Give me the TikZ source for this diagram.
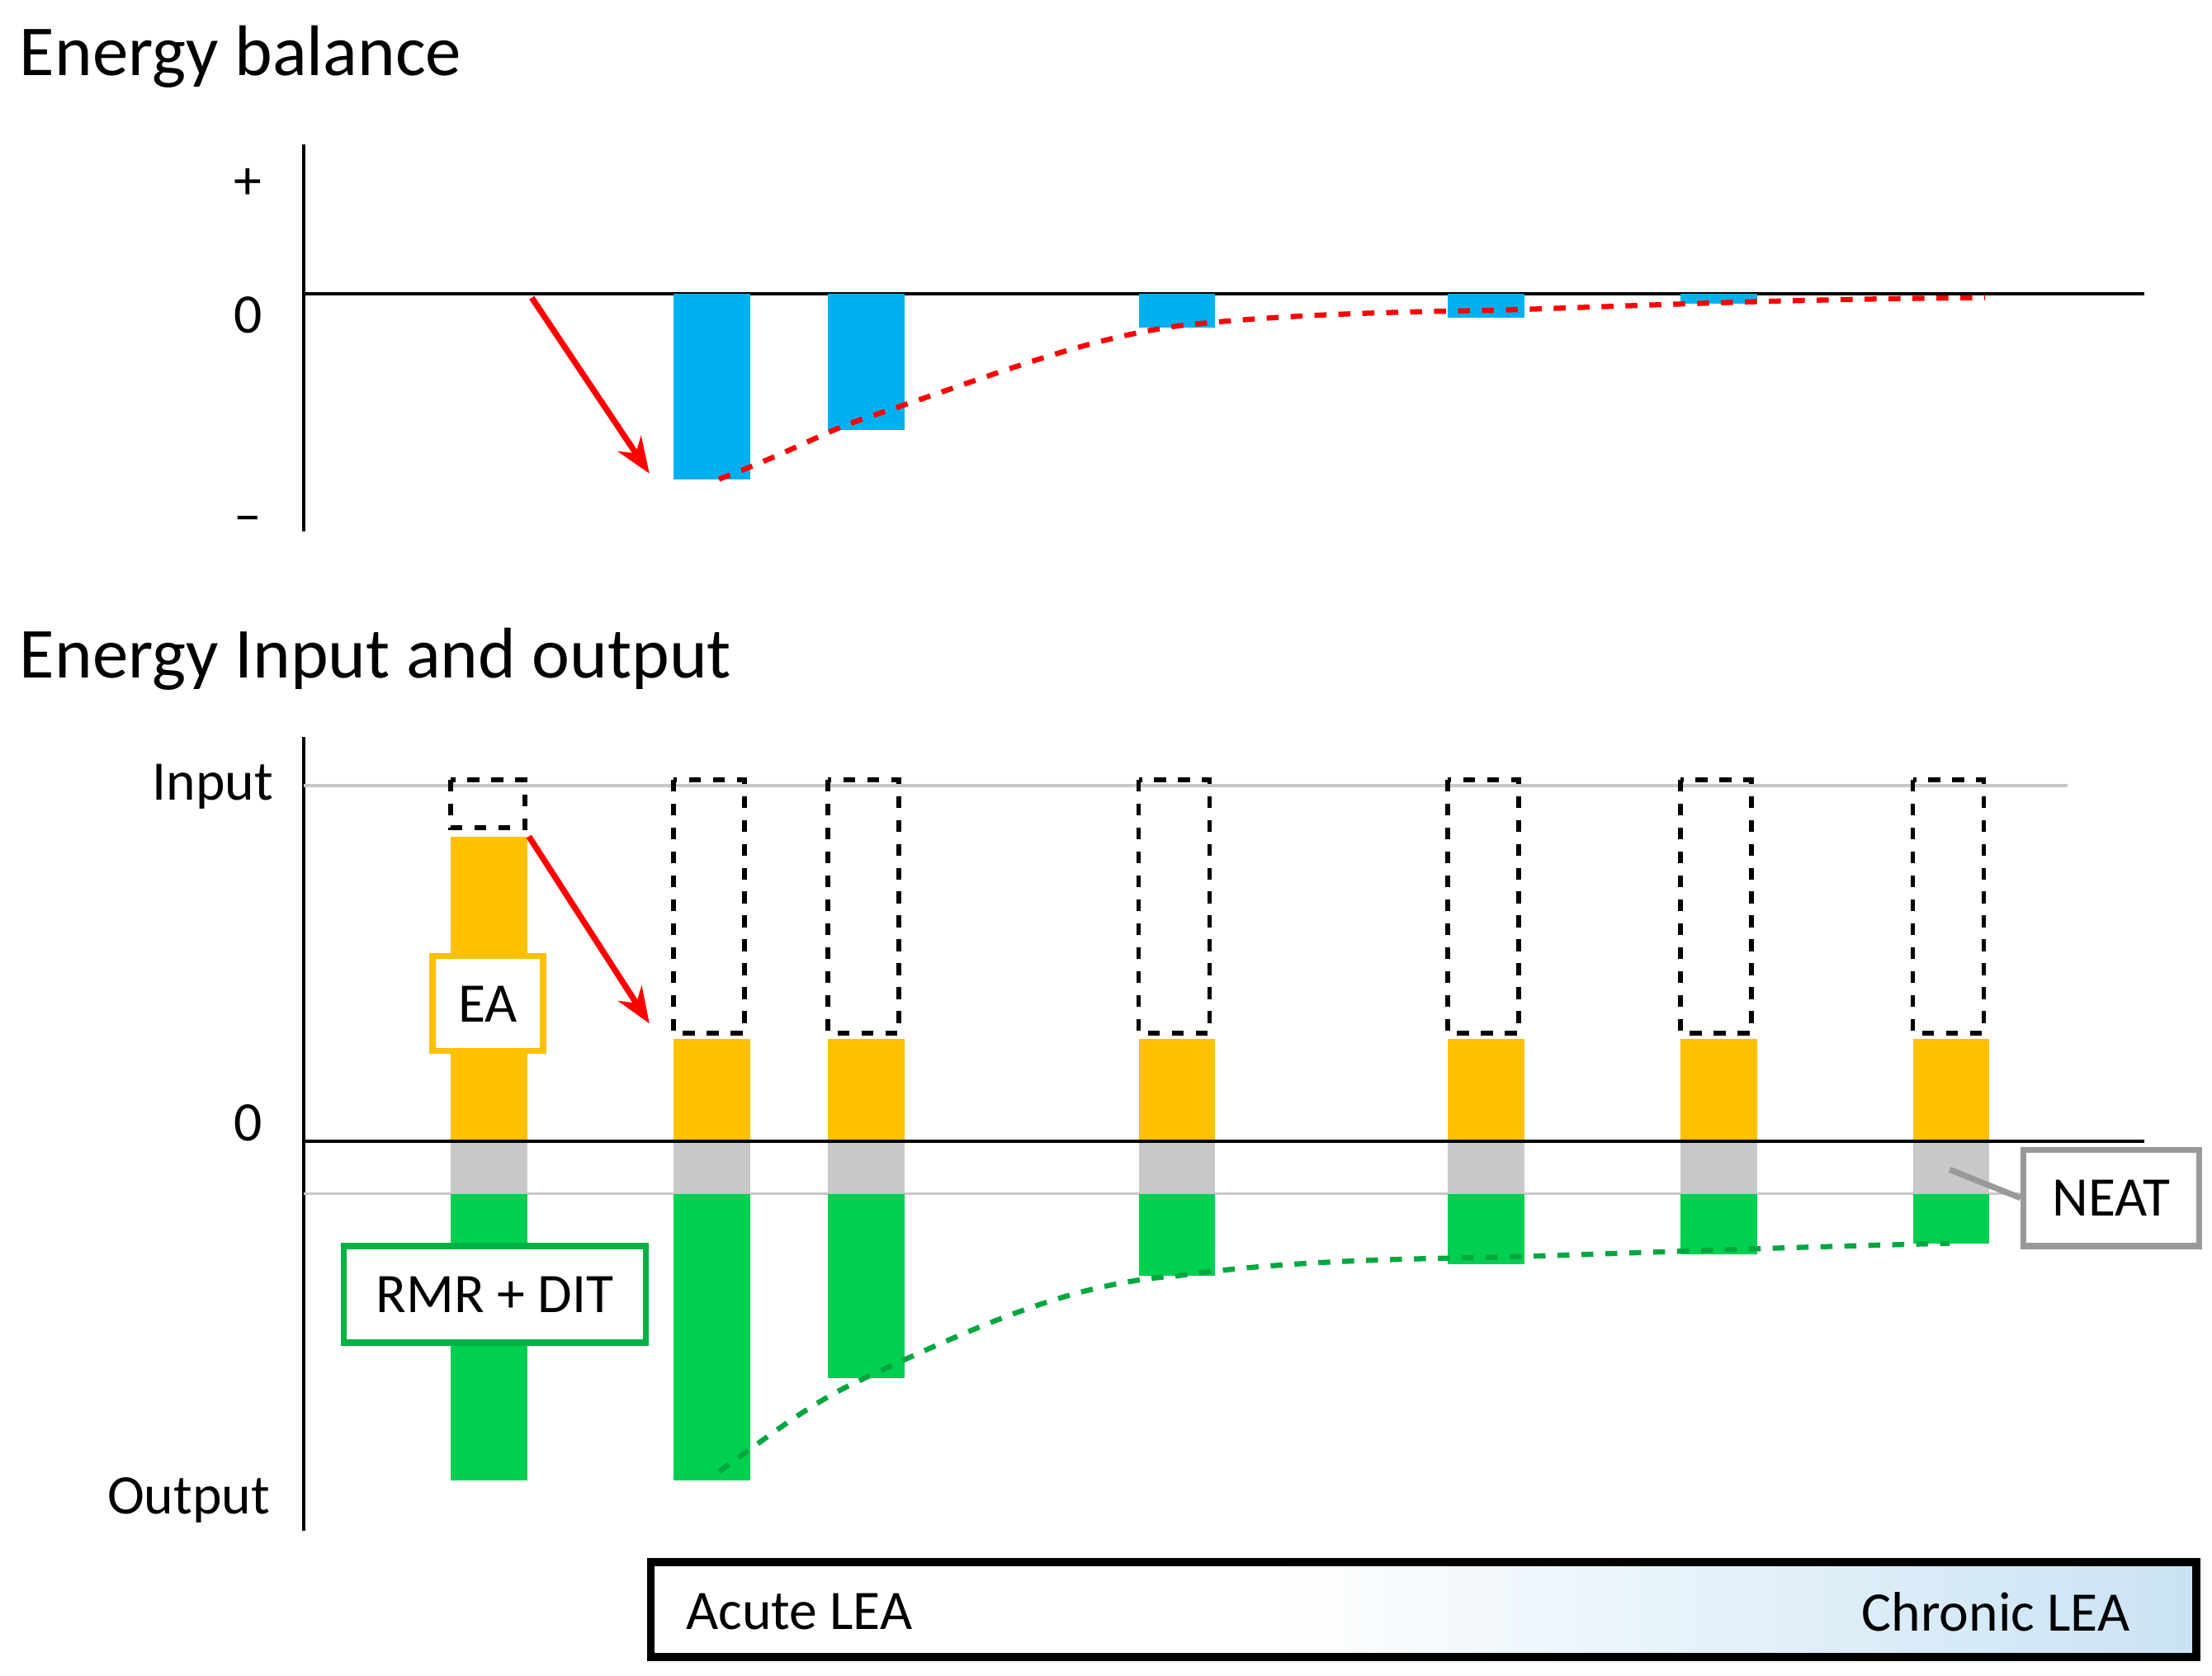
\documentclass[tikz,border=0pt]{standalone}
\usepackage{fontspec}
\setmainfont{Carlito}
\usetikzlibrary{arrows.meta}
\definecolor{bl}{HTML}{00B0F0}
\definecolor{og}{HTML}{FFC000}
\definecolor{gn}{HTML}{00D050}
\definecolor{gy}{HTML}{C8C8C8}
\definecolor{lb}{HTML}{9CCBEA}
\pgfdeclarehorizontalshading{lea}{100bp}{color(0bp)=(white);color(45bp)=(white);color(100bp)=(lb)}
\tikzset{lab/.style={font=\fontsize{14}{16}\selectfont},
 ttl/.style={font=\fontsize{18}{20}\selectfont,anchor=west},
 dbox/.style={draw=black,dashed,line width=1.2pt},
 arr/.style={red,line width=1.5pt,-{Stealth[length=9pt,width=7pt]}}}
\begin{document}
\begin{tikzpicture}[x=0.0125cm,y=-0.0125cm]
\useasboundingbox (0,0) rectangle (1560,1182);
\node[ttl] (t1) at (4,40) {Energy balance};
\node[ttl] (t2) at (4,465) {Energy Input and output};
% top chart
\draw[line width=0.8pt] (214,102) -- (214,375);
\draw[line width=0.8pt] (214,207) -- (1512,207);
\node[lab] (p) at (175,130) {+};
\node[lab] (z1) at (175,222) {0};
\node[lab] (m) at (175,370) {–};
\foreach \x/\b in {475/338,584/303,803/231,1021/224,1185/214}
  \fill[bl] (\x,207) rectangle (\x+54,\b);
\draw[red,dashed,line width=1.3pt] (507,338) .. controls (560,318) and (580,305) .. (610,295) .. controls (700,265) and (760,240) .. (830,230) .. controls (900,222) and (980,220) .. (1050,219) .. controls (1150,216) and (1250,211) .. (1400,210);
\coordinate (a1) at (375,210); \coordinate (a2) at (458,334);
\draw[arr] (a1) -- (a2);
% bottom chart
\draw[line width=0.8pt] (214,520) -- (214,1080);
\draw[gy,line width=0.8pt] (214,554) -- (1458,554);
\draw[gy,line width=0.8pt] (214,842) -- (1430,842);
\node[lab] (in) at (150,555) {Input};
\node[lab] (z2) at (175,792) {0};
\node[lab] (out) at (133,1058) {Output};
\fill[og] (318,590) rectangle (372,805);
\fill[gy] (318,805) rectangle (372,842);
\fill[gn] (318,842) rectangle (372,1044);
\draw[dbox] (318,550) rectangle (370,584);
\foreach \x/\g in {475/1044,584/972,803/900,1021/892,1185/885,1349/877}{
  \fill[og] (\x,733) rectangle (\x+54,805);
  \fill[gy] (\x,805) rectangle (\x+54,842);
  \fill[gn] (\x,842) rectangle (\x+54,\g);
  \draw[dbox] (\x,550) rectangle (\x+50,729);
}
\draw[line width=0.8pt] (214,805) -- (1512,805);
\draw[gn!80!black,dashed,line width=1.3pt] (507,1038) .. controls (540,1015) and (570,990) .. (610,972) .. controls (700,930) and (760,905) .. (830,900) .. controls (900,890) and (980,888) .. (1050,887) .. controls (1150,884) and (1250,880) .. (1375,877);
\coordinate (b1) at (373,590); \coordinate (b2) at (458,722);
\draw[arr] (b1) -- (b2);
\node[lab,draw=og,fill=white,line width=1.5pt,minimum width=78*0.0125cm,minimum height=67*0.0125cm] (ea) at (344,708) {EA};
\node[lab,draw=gn!85!black,fill=white,line width=1.5pt,minimum width=213*0.0125cm,minimum height=68*0.0125cm] (rmr) at (349,913) {RMR + DIT};
\node[lab,draw=gray!80,fill=white,line width=1.5pt,minimum width=124*0.0125cm,minimum height=68*0.0125cm] (neat) at (1489,845) {NEAT};
\coordinate (n1) at (1375,825);
\draw[gray!80,line width=1.5pt] (n1) -- (neat.west);
% LEA box
\shade[shading=lea] (459,1102) rectangle (1549,1169);
\draw[line width=2pt] (459,1102) rectangle (1549,1169);
\node[lab,anchor=west] (ac) at (474,1137) {Acute LEA};
\node[lab,anchor=east] (ch) at (1512,1137) {Chronic LEA};
\end{tikzpicture}
\end{document}
